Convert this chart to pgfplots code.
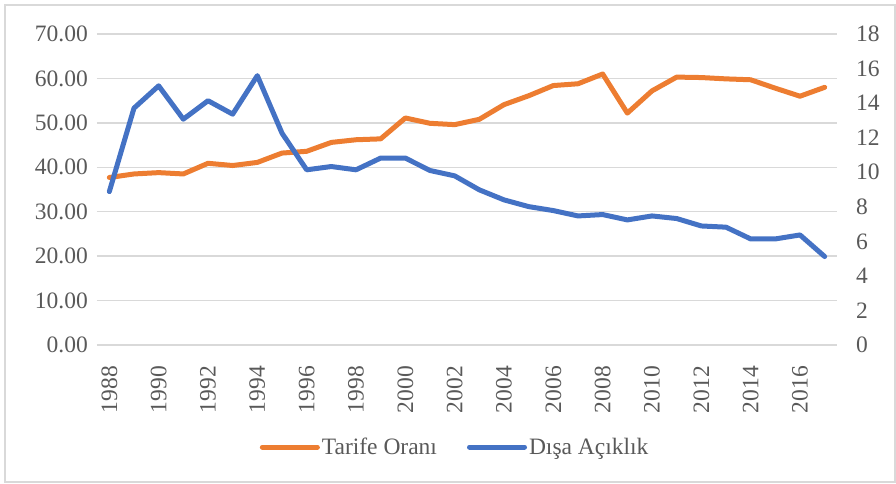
\documentclass[border=0pt]{standalone}
\usepackage{pgfplots}
\pgfplotsset{compat=1.18}
\usepackage{fontspec}
\setmainfont{Liberation Serif}
\definecolor{orng}{HTML}{ED7D31}
\definecolor{blu}{HTML}{4472C4}
\definecolor{txt}{HTML}{595959}
\definecolor{grd}{HTML}{D9D9D9}
\pgfplotstableread{
year tarife
1988 37.7
1989 38.5
1990 38.8
1991 38.5
1992 40.9
1993 40.4
1994 41.1
1995 43.2
1996 43.6
1997 45.6
1998 46.2
1999 46.4
2000 51.1
2001 49.9
2002 49.6
2003 50.8
2004 54.1
2005 56.1
2006 58.4
2007 58.8
2008 61.0
2009 52.2
2010 57.2
2011 60.3
2012 60.2
2013 59.9
2014 59.7
2015 57.8
2016 56.0
2017 58.0
}\tarife
\pgfplotstableread{
year acik
1988 8.88
1989 13.71
1990 15.00
1991 13.07
1992 14.14
1993 13.36
1994 15.59
1995 12.26
1996 10.14
1997 10.33
1998 10.14
1999 10.82
2000 10.82
2001 10.10
2002 9.79
2003 8.98
2004 8.40
2005 8.01
2006 7.78
2007 7.47
2008 7.55
2009 7.24
2010 7.47
2011 7.32
2012 6.89
2013 6.82
2014 6.14
2015 6.14
2016 6.37
2017 5.12
}\acik
\pgfplotsset{
  common/.style={
    scale only axis, width=740pt, height=311pt,
    at={(0,0)}, anchor=south west,
    xmin=1987.5, xmax=2017.5,
    axis line style={draw=none},
    major tick length=0pt,
    tick label style={font=\fontsize{23.5}{28}\selectfont, text=txt},
    /pgf/number format/assume math mode=true,
  }
}
\begin{document}
\begin{tikzpicture}[x=1pt,y=1pt]
\path[use as bounding box] (-97,-138) rectangle (799,345);
\draw[grd, line width=1.2pt] (-92,-137) rectangle (798,340);
\begin{axis}[common,
  ymin=0, ymax=70, ytick={0,10,...,70},
  ymajorgrids, grid style={grd, line width=1.3pt},
  yticklabel style={/pgf/number format/.cd, fixed, fixed zerofill, precision=2, /tikz/.cd, inner sep=0pt, xshift=-9pt},
  xtick={1988,1990,...,2016},
  xticklabel shift=21pt,
  xticklabel style={rotate=90, anchor=east, inner sep=0pt, /pgf/number format/1000 sep={}},
]
\addplot[orng, line width=5pt, line join=round, line cap=round] table[x=year, y=tarife] {\tarife};
\end{axis}
\begin{axis}[common,
  axis y line*=right, axis x line=none,
  ymin=0, ymax=18, ytick={0,2,...,18},
  yticklabel style={inner sep=0pt, xshift=19pt},
  xtick=\empty,
  legend columns=2,
  legend style={at={(0.484,-0.328)}, anchor=center, draw=none, fill=none,
    font=\fontsize{23.5}{28}\selectfont, text=txt,
    /tikz/every even column/.append style={column sep=28pt},
    inner sep=0pt},
  legend image code/.code={\draw[#1, line cap=round] (0pt,0pt) -- (55pt,0pt);},
]
\addlegendimage{orng, line width=5pt}
\addlegendentry{Tarife Oranı}
\addplot[blu, line width=5pt, line join=round, line cap=round] table[x=year, y=acik] {\acik};
\addlegendentry{Dışa Açıklık}
\end{axis}
\end{tikzpicture}
\end{document}
